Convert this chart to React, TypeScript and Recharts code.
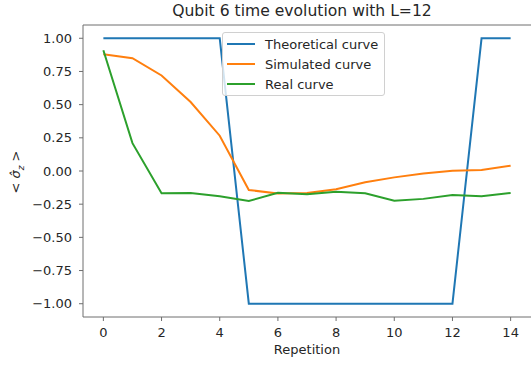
import { Line, LineChart, ReferenceLine, XAxis, YAxis } from "recharts";

const repetitions = [0, 1, 2, 3, 4, 5, 6, 7, 8, 9, 10, 11, 12, 13, 14];
const theoretical = [1, 1, 1, 1, 1, -1, -1, -1, -1, -1, -1, -1, -1, 1, 1];
const simulated = [0.88, 0.85, 0.72, 0.52, 0.266, -0.143, -0.17, -0.165, -0.138, -0.085, -0.048, -0.018, 0.002, 0.008, 0.04];
const real = [0.91, 0.21, -0.168, -0.165, -0.19, -0.226, -0.164, -0.176, -0.156, -0.168, -0.224, -0.21, -0.18, -0.19, -0.165];

const xTicks = [0, 2, 4, 6, 8, 10, 12, 14];
const yTicks = [-1, -0.75, -0.5, -0.25, 0, 0.25, 0.5, 0.75, 1];

const series = [
  { key: "theoretical", name: "Theoretical curve", color: "#1f77b4" },
  { key: "simulated", name: "Simulated curve", color: "#ff7f0e" },
  { key: "real", name: "Real curve", color: "#2ca02c" }
];

const data = repetitions.map((rep, i) => ({
  rep,
  theoretical: theoretical[i],
  simulated: simulated[i],
  real: real[i]
}));

const font = "'DejaVu Sans', sans-serif";
const spine = "#6e6e6e";
const textColor = "#262626";

function LegendBox() {
  return (
    <div
      style={{
        position: "absolute",
        left: 222,
        top: 32,
        width: 163,
        height: 64,
        border: "1px solid #d0d0d0",
        borderRadius: 3,
        background: "rgba(255,255,255,0.8)",
        fontFamily: font,
        fontSize: 13,
        color: textColor,
        boxSizing: "border-box"
      }}
    >
      {series.map((s, i) => (
        <div key={s.key} style={{ position: "absolute", left: 4, top: 1 + i * 20, height: 20, display: "flex", alignItems: "center" }}>
          <span style={{ width: 28, height: 2, background: s.color, display: "inline-block" }} />
          <span style={{ marginLeft: 10, whiteSpace: "nowrap" }}>{s.name}</span>
        </div>
      ))}
    </div>
  );
}

export default function App() {
  return (
    <div style={{ position: "absolute", left: 0, top: 0, width: 531, height: 367, background: "#fff" }}>
      <LineChart width={531} height={367} data={data} margin={{ top: 25, right: 0, bottom: 0, left: 0 }}>
        <XAxis
          dataKey="rep"
          type="number"
          domain={[-0.7, 14.7]}
          ticks={xTicks}
          height={50}
          allowDataOverflow
          stroke={spine}
          tickSize={4}
          tickMargin={7}
          tick={{ fill: textColor, fontSize: 13, fontFamily: font }}
        />
        <YAxis
          type="number"
          domain={[-1.1, 1.1]}
          ticks={yTicks}
          width={83}
          allowDataOverflow
          stroke={spine}
          tickSize={4}
          tickMargin={7}
          tick={{ fill: textColor, fontSize: 13, fontFamily: font }}
          tickFormatter={(v: number) => v.toFixed(2).replace("-", "\u2212")}
        />
        <ReferenceLine y={1.1} stroke={spine} strokeWidth={1} />
        {series.map((s) => (
          <Line
            key={s.key}
            type="linear"
            dataKey={s.key}
            name={s.name}
            stroke={s.color}
            strokeWidth={2}
            dot={false}
            isAnimationActive={false}
          />
        ))}
      </LineChart>
      <LegendBox />
      <div
        style={{
          position: "absolute",
          left: 0,
          width: 604,
          top: 2,
          textAlign: "center",
          fontFamily: font,
          fontSize: 15.6,
          color: textColor,
          whiteSpace: "nowrap"
        }}
      >
        Qubit 6 time evolution with L=12
      </div>
      <div
        style={{
          position: "absolute",
          left: 83,
          width: 448,
          top: 342,
          textAlign: "center",
          fontFamily: font,
          fontSize: 13,
          color: textColor
        }}
      >
        Repetition
      </div>
      <div
        style={{
          position: "absolute",
          left: 17,
          top: 172,
          transform: "translate(-50%, -50%) rotate(-90deg)",
          fontFamily: font,
          fontSize: 13,
          color: textColor,
          whiteSpace: "nowrap"
        }}
      >
        &lt; <i>σ&#770;</i>
        <sub style={{ fontSize: 9, fontStyle: "italic" }}>z</sub> &gt;
      </div>
    </div>
  );
}
